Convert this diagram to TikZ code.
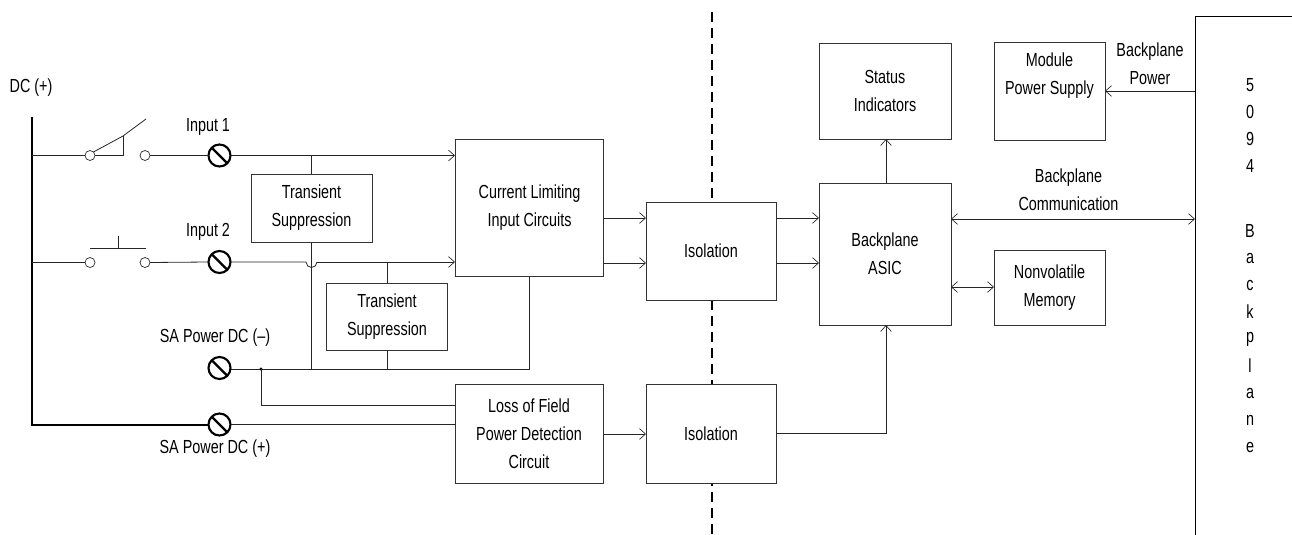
\documentclass[tikz,border=0pt]{standalone}
\usepackage{fontspec}
\setmainfont[FakeStretch=0.76]{Liberation Sans}
\usetikzlibrary{arrows.meta}
\tikzset{
 blk/.style={draw=black!80,line width=0.6pt,fill=white,inner sep=0,outer sep=0,anchor=north west,align=center,font=\fontsize{14.2}{20}\selectfont},
 lab/.style={inner sep=0,align=center,font=\fontsize{14.2}{20}\selectfont},
 wire/.style={line width=0.6pt,draw=black!85},
 arr/.style={wire,-{Straight Barb[length=4.5pt,width=8pt,line width=0.5pt]}},
 darr/.style={wire,{Straight Barb[length=4.5pt,width=8pt,line width=0.5pt]}-{Straight Barb[length=4.5pt,width=8pt,line width=0.5pt]}},
 term/.style={circle,draw=black,line width=1.6pt,fill=white,minimum size=16.5pt,inner sep=0,outer sep=0},
 cont/.style={circle,draw=black!80,line width=0.55pt,fill=white,minimum size=7.5pt,inner sep=0,outer sep=0},
}
\newcommand{\blkbox}[6]{\node[blk,minimum width=#4*0.75pt,minimum height=#5*0.75pt] (#1) at (#2,#3) {}; \node[lab] at (#1.center) {#6};}
\begin{document}
\begin{tikzpicture}[x=0.75pt,y=-0.75pt]
\useasboundingbox (0,0) rectangle (1292,535);
% dashed isolation barrier
\coordinate (dt) at (712,12); \coordinate (db) at (712,535);
\draw[line width=1.5pt,dash pattern=on 7.5pt off 4.5pt] (dt) -- (db);
% boxes
\node[blk,minimum width=111pt,minimum height=102.75pt] (cl) at (455,139.5) {};
\node[lab,anchor=center] at (529.5,207.5) {Current Limiting\\[1pt]Input Circuits};
\node[blk,minimum width=90.75pt,minimum height=51pt] (ts1) at (251,174) {Transient\\[1pt]Suppression};
\node[blk,minimum width=90.75pt,minimum height=50.25pt] (ts2) at (326.5,283) {Transient\\[1pt]Suppression};
\node[blk,minimum width=111pt,minimum height=74.25pt] (lf) at (455,384) {Loss of Field\\[1pt]Power Detection\\[1pt]Circuit};
\node[blk,minimum width=97.5pt,minimum height=73.5pt] (iso1) at (646,202) {Isolation};
\node[blk,minimum width=97.5pt,minimum height=74.25pt] (iso2) at (646,384) {Isolation};
\node[blk,minimum width=99pt,minimum height=106.5pt] (asic) at (819,183) {Backplane\\[1pt]ASIC};
\node[blk,minimum width=99pt,minimum height=72pt] (stat) at (819,43) {};
\node[lab] at (885,91) {Status\\[1pt]Indicators};
\node[blk,minimum width=83.25pt,minimum height=73.5pt] (mod) at (994,42) {};
\node[lab] at (1049.5,76) {Module\\[1pt]Power Supply};
\node[blk,minimum width=83.25pt,minimum height=56.25pt] (nv) at (994,250) {Nonvolatile\\[1pt]Memory};
% backplane
\coordinate (bt) at (1195,16); \coordinate (bb) at (1195,535); \coordinate (br) at (1292,16);
\draw[line width=0.7pt] (br) -- (bt) -- (bb);
% terminals and contacts
\node[term] (t1) at (219.5,155.5) {};
\node[term] (t2) at (219.5,262) {};
\node[term] (t3) at (219.5,368) {};
\node[term] (t4) at (219.5,424.5) {};
\foreach \n in {t1,t2,t3,t4}{\draw[line width=1.6pt] (\n.135) -- (\n.-45);}
\node[cont] (c1) at (90,155.5) {};
\node[cont] (c2) at (145,155.5) {};
\node[cont] (c3) at (90,262.5) {};
\node[cont] (c4) at (145,262.5) {};
% DC bus
\coordinate (bus) at (32,117);
\coordinate (bus1) at (32,155.5);
\coordinate (bus2) at (32,262.5);
\coordinate (bus4) at (32,424.5);
\draw[line width=1.5pt] (bus) -- (bus4) -- (t4.west);
\draw[wire] (bus1) -- (c1.west);
\draw[wire] (bus2) -- (c3.west);
% switch 1
\coordinate (blade) at (146,119);
\coordinate (bk) at (123,136);
\coordinate (bk2) at (123,155.5);
\draw[wire] (c1.45) -- (bk) -- (blade);
\draw[wire] (bk) -- (bk2) -- (c1.east);
\draw[wire] (c2.east) -- (t1.west);
% switch 2
\coordinate (pb1) at (90,248.5);
\coordinate (pb2) at (146,248.5);
\coordinate (pbm) at (118,248.5);
\coordinate (pbt) at (118,236);
\draw[wire] (pb1) -- (pb2);
\draw[wire] (pbm) -- (pbt);
\draw[wire] (c4.east) -- (t2.west);
% inputs
\coordinate (a1) at (455,155.5);
\coordinate (a2) at (455,262);
\draw[arr] (t1.east) -- (a1);
\coordinate (j1) at (311.5,155.5);
\draw[wire] (j1) -- (ts1.north -| j1);
\coordinate (j3) at (311.5,369);
\draw[wire] (ts1.south -| j3) -- (j3);
\coordinate (h1) at (306,262);
\coordinate (h2) at (317,262);
\draw[wire,fill=none] (t2.east) -- (h1) arc[start angle=180,end angle=0,radius=5.5] -- (h2);
\draw[arr] (h2) -- (a2);
\coordinate (j2) at (387,262);
\draw[wire] (j2) -- (ts2.north -| j2);
\coordinate (j4) at (387,369);
\draw[wire] (ts2.south -| j4) -- (j4);
\coordinate (g) at (529.5,369);
\draw[wire] (t3.east |- g) -- (g) -- (cl.south -| g);
% field
\coordinate (dot) at (261,369);
\coordinate (dot2) at (261,405);
\fill (dot) circle[radius=1.6];
\draw[wire] (dot) -- (dot2) -- (lf.west |- dot2);
\draw[wire] (t4.east) -- (lf.west |- t4);
\coordinate (lfo) at (604,434);
\draw[arr] (lfo) -- (iso2.west |- lfo);
% to isolation
\foreach \y/\i in {218/a,263/b}{
 \coordinate (x\i) at (604,\y);
 \coordinate (y\i) at (776,\y);
 \draw[arr] (x\i) -- (iso1.west |- x\i);
 \draw[arr] (y\i) -- (asic.west |- y\i);
}
\coordinate (io) at (776,433);
\coordinate (ic) at (886,433);
\draw[arr] (io) -- (ic) -- (asic.south -| ic);
\coordinate (as) at (886,183);
\draw[arr] (as) -- (stat.south -| as);
\coordinate (bc) at (951,219);
\draw[darr] (bc) -- (bc -| bb);
\coordinate (nm) at (951,287);
\draw[darr] (nm) -- (nv.west |- nm);
\coordinate (bp) at (1195,91);
\draw[arr] (bp) -- (mod.east |- bp);
% labels
\node[lab] (l0) at (31,88) {DC (+)};
\node[lab] (l1) at (208,127) {Input 1};
\node[lab] (l2) at (208,232) {Input 2};
\node[lab] (l3) at (215,338) {SA Power DC (--)};
\node[lab] (l4) at (215,449) {SA Power DC (+)};
\node[lab] (l5) at (1150,63.5) {Backplane\\[1pt]Power};
\node[lab] (l6) at (1068.5,190) {Backplane\\[1pt]Communication};
\foreach \c/\y in {5/85,0/112,9/139,4/166,B/231,a/258,c/285,k/312,p/339,l/366,a/393,n/420,e/447}{
 \node[lab] at (1250,\y) {\c};
}
\end{tikzpicture}
\end{document}
